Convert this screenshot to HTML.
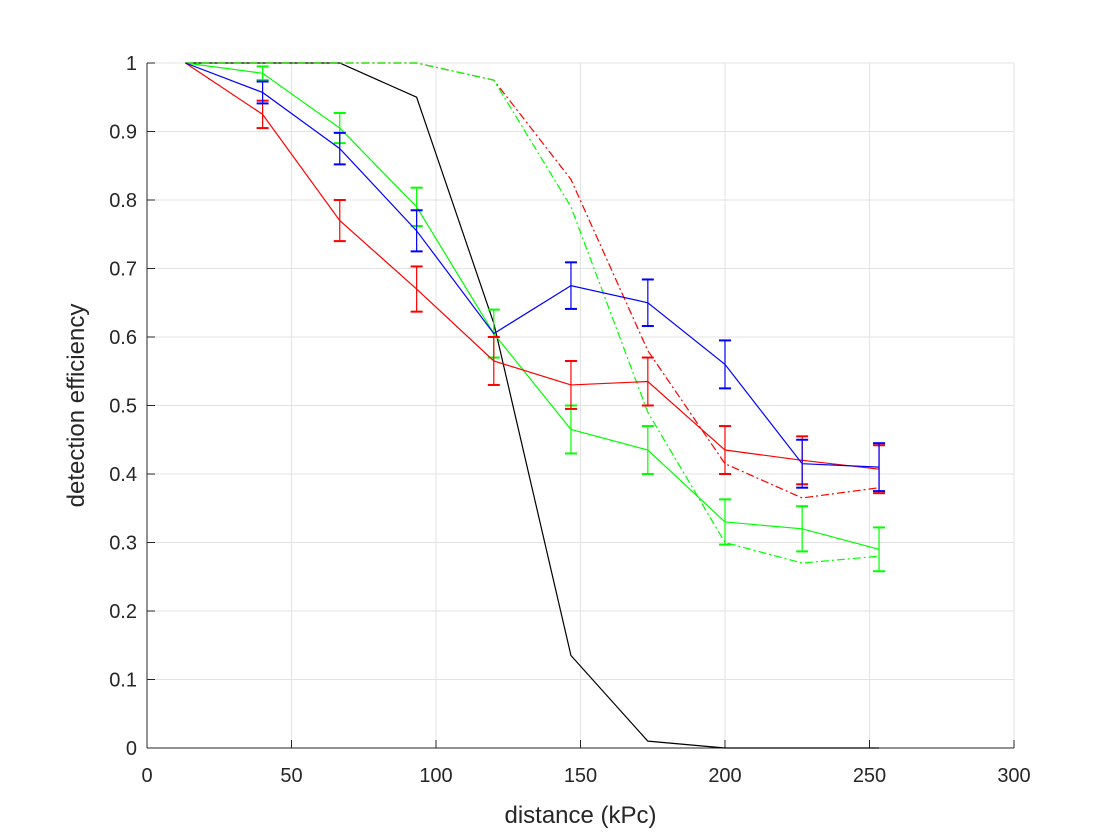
<!DOCTYPE html>
<html><head><meta charset="utf-8"><style>
body{margin:0;background:#fff;}
svg{display:block;font-family:"Liberation Sans",sans-serif;}
</style></head><body>
<svg id="c" width="1120" height="840"></svg>
<script>
const xs=[13.3,40,66.7,93.3,120,146.7,173.3,200,226.7,253.3];
const black=[1,1,1,0.95,0.62,0.135,0.01,0,0,0];
const redDash=[1,1,1,1,0.975,0.83,0.58,0.415,0.365,0.38];
const greenDash=[1,1,1,1,0.975,0.79,0.49,0.3,0.27,0.28];
const blue=[1,0.957,0.875,0.755,0.605,0.675,0.65,0.56,0.415,0.41];
const blueErr=[0,0.016,0.023,0.03,0.0,0.034,0.034,0.035,0.035,0.035];
const red=[1,0.925,0.77,0.67,0.565,0.53,0.535,0.435,0.42,0.407];
const redErr=[0,0.02,0.03,0.033,0.035,0.035,0.035,0.035,0.035,0.035];
const green=[1,0.985,0.905,0.79,0.605,0.465,0.435,0.33,0.32,0.29];
const greenErr=[0,0.01,0.022,0.028,0.035,0.035,0.035,0.033,0.033,0.032];
const xTicks=[0,50,100,150,200,250,300];
const yTicks=[0,0.1,0.2,0.3,0.4,0.5,0.6,0.7,0.8,0.9,1];

const L=147,R=1014,T=63,B=748;
const X=v=>L+(v/300)*(R-L);
const Y=v=>B-v*(B-T);
const svg=document.getElementById('c');
const NS='http://www.w3.org/2000/svg';
function mk(tag,attrs,name){const e=document.createElementNS(NS,tag);for(const k in attrs)e.setAttribute(k,attrs[k]);


svg.appendChild(e);return e;}
mk('rect',{x:L,y:T,width:R-L,height:B-T,fill:'#fff'},'plot-area');
xTicks.forEach(t=>{mk('line',{x1:X(t),x2:X(t),y1:T,y2:B,stroke:'#e3e3e3'},'x-grid-line');
mk('line',{x1:X(t),x2:X(t),y1:B,y2:B-8,stroke:'#262626'},'x-tick');
const tx=mk('text',{x:X(t),y:B+34,'text-anchor':'middle','font-size':20,fill:'#262626'},'x-tick-label');tx.textContent=t;});
yTicks.forEach(t=>{mk('line',{x1:L,x2:R,y1:Y(t),y2:Y(t),stroke:'#e3e3e3'},'y-grid-line');
mk('line',{x1:L,x2:L+8,y1:Y(t),y2:Y(t),stroke:'#262626'},'y-tick');
const tx=mk('text',{x:L-10,y:Y(t)+7,'text-anchor':'end','font-size':20,fill:'#262626'},'y-tick-label');tx.textContent=String(t);});
mk('line',{x1:L,x2:R,y1:B,y2:B,stroke:'#262626'},'x-axis');
mk('line',{x1:L,x2:L,y1:T,y2:B,stroke:'#262626'},'y-axis');
function line(vals,color,dash,name){const pts=vals.map((v,i)=>X(xs[i])+','+Y(v)).join(' ');
const a={points:pts,fill:'none',stroke:color,'stroke-width':1.2};if(dash)a['stroke-dasharray']=dash;mk('polyline',a,name);}
function errs(vals,err,color,name){vals.forEach((v,i)=>{if(!err[i])return;const x=X(xs[i]);
mk('line',{x1:x,x2:x,y1:Y(v+err[i]),y2:Y(v-err[i]),stroke:color,'stroke-width':1.2},name+'-error-bar');
[v+err[i],v-err[i]].forEach(e=>mk('line',{x1:x-6,x2:x+6,y1:Y(e),y2:Y(e),stroke:color,'stroke-width':2},name+'-error-cap'));});}
line(black,'#000',null,'black-line');
line(redDash,'#ff0000','8,3,2,3','red-dashdot-line');
line(greenDash,'#00ff00','8,3,2,3','green-dashdot-line');
line(green,'#00ff00',null,'green-line');errs(green,greenErr,'#00ff00','green');
line(red,'#ff0000',null,'red-line');errs(red,redErr,'#ff0000','red');
line(blue,'#0000ff',null,'blue-line');errs(blue,blueErr,'#0000ff','blue');
const xl=mk('text',{x:(L+R)/2,y:823,'text-anchor':'middle','font-size':24,fill:'#262626'},'x-axis-title');xl.textContent='distance (kPc)';
const yl=mk('text',{x:0,y:0,'text-anchor':'middle','font-size':24,fill:'#262626',transform:`translate(84,${(T+B)/2}) rotate(-90)`},'y-axis-title');yl.textContent='detection efficiency';
</script>
</body></html>
